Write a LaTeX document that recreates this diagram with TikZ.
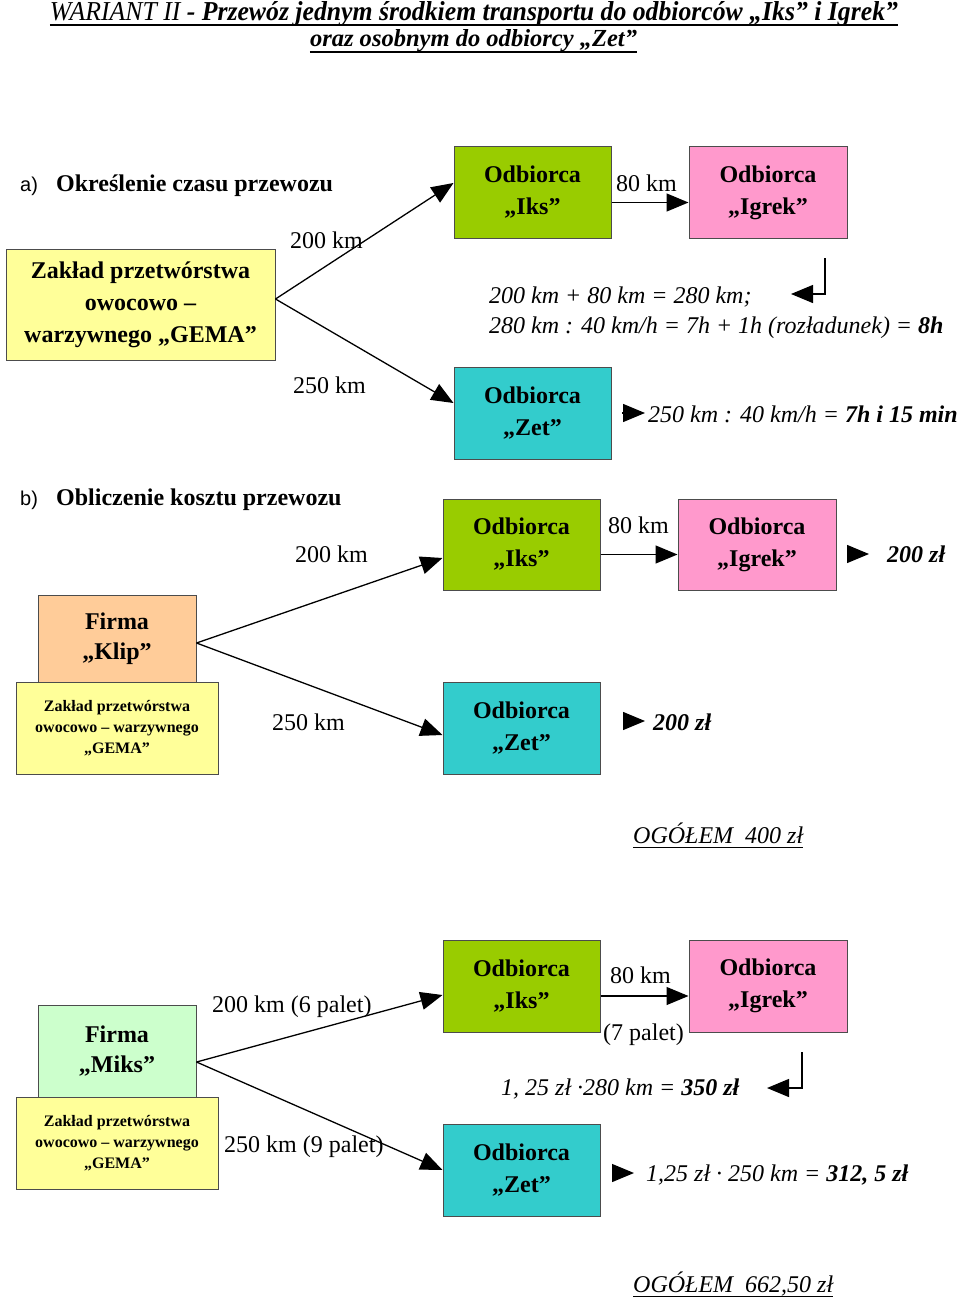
\documentclass[tikz,border=0pt]{standalone}
\usepackage{fontspec}
\setmainfont{Liberation Serif}
\newfontfamily\arialfont{Liberation Sans}
\usetikzlibrary{arrows.meta}
\definecolor{cyel}{HTML}{FFFF99}
\definecolor{cgrn}{HTML}{99CC00}
\definecolor{cpnk}{HTML}{FF99CC}
\definecolor{ccyn}{HTML}{33CCCC}
\definecolor{corg}{HTML}{FFCC99}
\definecolor{clgr}{HTML}{CCFFCC}
\tikzset{
  box/.style={draw=black!70, line width=1pt, align=center, inner sep=0pt,
    font=\fontsize{24}{32}\selectfont\bfseries},
  odb/.style={box, minimum width=157pt, minimum height=91pt},
  smallbox/.style={box, minimum width=202pt, minimum height=92pt,
    fill=cyel, font=\fontsize{16}{21}\selectfont\bfseries},
  firmbox/.style={box, minimum width=158pt, font=\fontsize{24}{30}\selectfont\bfseries},
  lbl/.style={anchor=base west, inner sep=0pt, font=\fontsize{24}{29}\selectfont},
  frm/.style={anchor=base west, inner sep=0pt, font=\fontsize{24}{29}\selectfont\itshape},
  head/.style={anchor=base west, inner sep=0pt, font=\fontsize{24}{29}\selectfont\bfseries},
  letter/.style={anchor=base west, inner sep=0pt, font=\fontsize{20}{24}\selectfont\arialfont},
  arr/.style={line width=1.3pt, -{Triangle[length=22pt,width=18pt]}},
  uline/.style={line width=1.1pt}
}
\begin{document}
\begin{tikzpicture}[x=1pt,y=-1pt]
\useasboundingbox (0,0) rectangle (960,1300);
% title
\node[anchor=base, inner sep=0pt] (t1) at (474,21)
  {\resizebox{848pt}{19pt}{\fontsize{30}{30}\selectfont\itshape WARIANT II {\bfseries - Przewóz jednym środkiem transportu do odbiorców „Iks” i Igrek”}}};
\node[anchor=base, inner sep=0pt] (t2) at (473.5,47)
  {\resizebox{327pt}{17pt}{\fontsize{30}{30}\selectfont\bfseries\itshape oraz osobnym do odbiorcy „Zet”}};
\draw[uline] ([yshift=-4pt]t1.base west) -- ([yshift=-4pt]t1.base east);
\draw[uline] ([yshift=-5pt]t2.base west) -- ([yshift=-5pt]t2.base east);

% ===== section a =====
\node[letter] (la) at (20,192) {a)};
\node[head] (ha) at (56,192) {Określenie czasu przewozu};
\node[box, fill=cyel, minimum width=269pt, minimum height=111pt] (gemaA) at (140.5,304.5)
  {Zakład przetwórstwa\\owocowo –\\warzywnego „GEMA”};
\node[odb, fill=cgrn] (iksA) at (532.5,192.5) {Odbiorca\\„Iks”};
\node[odb, fill=cpnk, minimum width=158pt] (igrekA) at (768,192.5) {Odbiorca\\„Igrek”};
\node[odb, fill=ccyn, minimum height=92pt] (zetA) at (532.5,413) {Odbiorca\\„Zet”};
\draw[arr] ([yshift=5.5pt]gemaA.east) -- ([yshift=9.5pt]iksA.west);
\draw[arr] ([yshift=5.5pt]gemaA.east) -- ([yshift=10pt]zetA.west);
\draw[arr] ([yshift=-10pt]iksA.east) -- ([yshift=-10pt]igrekA.west);
\node[lbl] (dA1) at (290,248) {200 km};
\node[lbl] (dA2) at (293,393) {250 km};
\node[lbl] (dA3) at (616,192) {80 km};
\coordinate (bA1) at (825,258);
\coordinate (bA2) at (791,294);
\draw[line width=1.3pt, -{Triangle[length=22pt,width=18pt]}] (bA1) |- (bA2);
\node[frm] (fA1) at (489,303) {200 km + 80 km = 280 km;};
\node[frm] (fA2) at (489,333) {280 km : 40 km/h = 7h + 1h (rozładunek) = \textbf{8h}};
\coordinate (sA1) at (622,413);
\coordinate (sA2) at (645,413);
\draw[arr] (sA1) -- (sA2);
\node[frm] (fA3) at (648,422) {250 km : 40 km/h = \textbf{7h i 15 min}};

% ===== section b =====
\node[letter] (lb) at (20,505) {b)};
\node[head] (hb) at (56,505) {Obliczenie kosztu przewozu};
\node[firmbox, fill=corg, minimum height=87pt] (klip) at (117,638.5) {Firma\\„Klip”};
\node[smallbox] (gemaB) at (117,728) {Zakład przetwórstwa\\owocowo – warzywnego\\„GEMA”};
\node[odb, fill=cgrn] (iksB) at (521.5,544.5) {Odbiorca\\„Iks”};
\node[odb, fill=cpnk, minimum width=158pt] (igrekB) at (757,544.5) {Odbiorca\\„Igrek”};
\node[odb, fill=ccyn, minimum height=92pt] (zetB) at (521.5,728) {Odbiorca\\„Zet”};
\draw[arr] ([yshift=-4.5pt]klip.east) -- ([yshift=-13.5pt]iksB.west);
\draw[arr] ([yshift=-4.5pt]klip.east) -- ([yshift=-7pt]zetB.west);
\draw[arr] ([yshift=-10pt]iksB.east) -- ([yshift=-10pt]igrekB.west);
\node[lbl] (dB1) at (295,562) {200 km};
\node[lbl] (dB2) at (272,730) {250 km};
\node[lbl] (dB3) at (608,533) {80 km};
\coordinate (sB1) at (847,554);
\coordinate (sB2) at (869,554);
\draw[arr] (sB1) -- (sB2);
\node[frm] (fB1) at (887,562) {\textbf{200 zł}};
\coordinate (sB3) at (623,721);
\coordinate (sB4) at (645,721);
\draw[arr] (sB3) -- (sB4);
\node[frm] (fB2) at (653,730) {\textbf{200 zł}};
\node[frm] (ogB) at (633,843) {OGÓŁEM\ \ 400 zł};
\draw[line width=0.9pt] ([yshift=-4pt]ogB.base west) -- ([yshift=-4pt]ogB.base east);

% ===== section c =====
\node[firmbox, fill=clgr, minimum height=92pt] (miks) at (117,1051) {Firma\\„Miks”};
\node[smallbox] (gemaC) at (117,1143) {Zakład przetwórstwa\\owocowo – warzywnego\\„GEMA”};
\node[odb, fill=cgrn, minimum height=92pt] (iksC) at (521.5,986) {Odbiorca\\„Iks”};
\node[odb, fill=cpnk, minimum width=158pt, minimum height=92pt] (igrekC) at (768,986) {Odbiorca\\„Igrek”};
\node[odb, fill=ccyn, minimum height=92pt] (zetC) at (521.5,1170) {Odbiorca\\„Zet”};
\draw[arr] ([yshift=-11pt]miks.east) -- ([yshift=-9pt]iksC.west);
\draw[arr] ([yshift=-11pt]miks.east) -- (zetC.west);
\draw[arr] ([yshift=-10pt]iksC.east) -- ([yshift=-10pt]igrekC.west);
\node[lbl] (dC1) at (212,1012) {200 km (6 palet)};
\node[lbl] (dC2) at (224,1152) {250 km (9 palet)};
\node[lbl] (dC3) at (610,983) {80 km};
\node[lbl] (dC4) at (603,1040) {(7 palet)};
\coordinate (bC1) at (802,1052);
\coordinate (bC2) at (767,1088);
\draw[line width=1.3pt, -{Triangle[length=22pt,width=18pt]}] (bC1) |- (bC2);
\node[frm] (fC1) at (501,1095) {1, 25 zł ·280 km = \textbf{350 zł}};
\coordinate (sC1) at (612,1173);
\coordinate (sC2) at (634,1173);
\draw[arr] (sC1) -- (sC2);
\node[frm] (fC2) at (646,1181) {1,25 zł · 250 km = \textbf{312, 5 zł}};
\node[frm] (ogC) at (633,1292) {OGÓŁEM\ \ 662,50 zł};
\draw[line width=0.9pt] ([yshift=-4pt]ogC.base west) -- ([yshift=-4pt]ogC.base east);
\end{tikzpicture}
\end{document}
